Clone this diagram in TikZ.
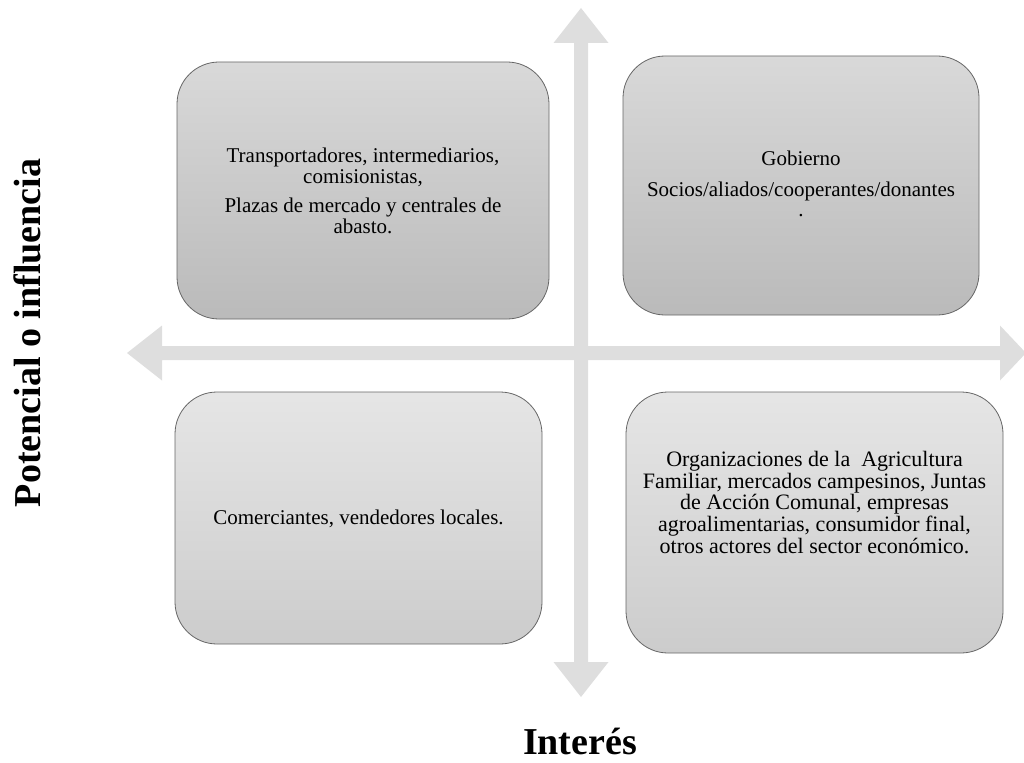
\documentclass[tikz,border=0pt]{standalone}
\usepackage{fontspec}
\setmainfont{Liberation Serif}
\begin{document}
\begin{tikzpicture}[x=1pt,y=-1pt,
  quad/.style={draw=black!60, line width=0.8pt, rounded corners=42pt, inner sep=0pt},
  quadtop/.style={quad, top color=black!15, bottom color=black!27},
  quadbot/.style={quad, top color=black!10, bottom color=black!20},
  boxtext/.style={align=center, font=\fontsize{21}{20.5}\selectfont, inner sep=0pt},
  title/.style={font=\fontsize{38}{40}\selectfont\bfseries, inner sep=0pt},
  axis/.style={fill=black!13, draw=none}
]
\useasboundingbox (0,0) rectangle (1024,762);

% axes (double-headed block arrows)
\fill[axis] (581,8) -- (608.5,43) -- (588,43) -- (588,662) -- (608.5,662) -- (581,697)
  -- (553.5,662) -- (574,662) -- (574,43) -- (553.5,43) -- cycle;
\fill[axis] (127,353) -- (162,325.5) -- (162,346) -- (1000,346) -- (1000,325.5) -- (1026,353)
  -- (1000,380.5) -- (1000,360) -- (162,360) -- (162,380.5) -- cycle;

% quadrants
\node[quadtop, minimum width=372pt, minimum height=257pt] (tl) at (363,190.5) {};
\node[quadtop, minimum width=356pt, minimum height=259pt] (tr) at (801,185.5) {};
\node[quadbot, minimum width=367pt, minimum height=252pt] (bl) at (358.5,518) {};
\node[quadbot, minimum width=377pt, minimum height=261pt] (br) at (814.5,522.5) {};

\node[boxtext] (tltext) at (363,191) {Transportadores, intermediarios,\\ comisionistas,\\[9pt] Plazas de mercado y centrales de\\ abasto.};
\node[boxtext] (trtext) at (801,184) {Gobierno\\[10pt] Socios/aliados/cooperantes/donantes\\ .};
\node[boxtext] (bltext) at (358.5,519) {Comerciantes, vendedores locales.};
\node[boxtext, font=\fontsize{22}{21.8}\selectfont] (brtext) at (814.5,502.5) {Organizaciones de la\ \ Agricultura\\ Familiar, mercados campesinos, Juntas\\ de Acción Comunal, empresas\\ agroalimentarias, consumidor final,\\ otros actores del sector económico.};

% axis titles
\node[title, rotate=90] (ylabel) at (27,333) {Potencial o influencia};
\node[title, anchor=base] (xlabel) at (580,754) {Interés};
\end{tikzpicture}
\end{document}
